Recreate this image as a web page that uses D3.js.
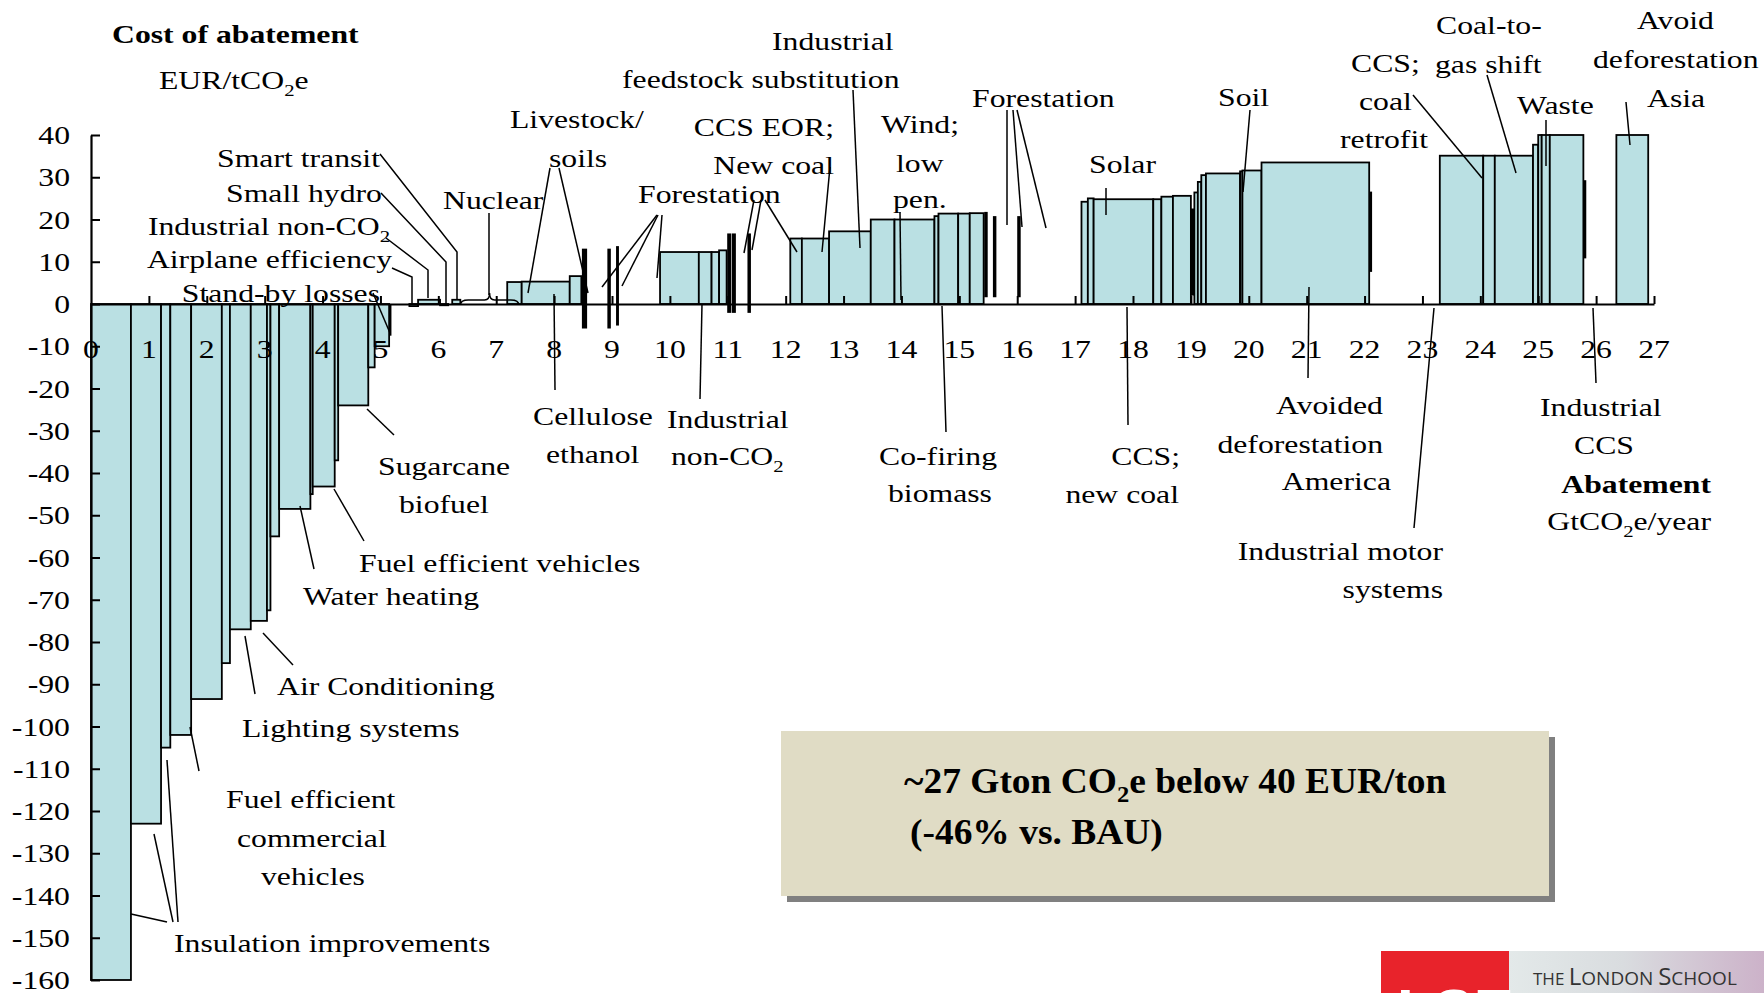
<!DOCTYPE html>
<html><head><meta charset="utf-8">
<script src="https://cdn.jsdelivr.net/npm/d3@7"></script>
<style>body{margin:0;background:#fff;} svg{display:block;}</style>
</head><body>
<svg id="chart" width="1764" height="993"></svg>
<script>
// ---------------- DATA (abatement GtCO2e/yr on x, cost EUR/tCO2e on y) ----------------
const barStart = [0.00,0.69,1.21,1.37,1.73,2.26,2.40,2.76,3.04,3.10,3.25,3.79,3.83,4.21,4.27,4.79,4.90,
  5.50,5.65,6.03,6.24,
  7.19,7.44,8.27,
  9.83,10.50,10.72,10.85,
  12.08,12.28,12.75,13.47,13.88,14.57,14.64,14.98,15.18,
  17.11,17.22,17.32,18.35,18.49,18.69,19.06,19.12,19.18,19.26,19.85,19.89,20.22,
  23.30,24.05,24.25,24.91,25.00,25.06,25.20,
  26.35];
const barEnd = [0.69,1.21,1.37,1.73,2.26,2.40,2.76,3.04,3.10,3.25,3.79,3.83,4.21,4.27,4.79,4.90,5.15,
  5.65,6.03,6.17,6.38,
  7.44,8.27,8.47,
  10.50,10.72,10.85,10.98,
  12.28,12.75,13.47,13.88,14.57,14.64,14.98,15.18,15.42,
  17.22,17.32,18.35,18.49,18.69,19.00,19.12,19.18,19.26,19.85,19.89,20.22,22.08,
  24.05,24.25,24.91,25.00,25.06,25.20,25.78,
  26.90];
const barCost = [-160,-123,-105,-102,-93.5,-85,-77,-75,-72.5,-55,-48.5,-45,-43.2,-37,-24,-15,-10,
  -0.5,1.0,-0.3,1.0,
  5.2,5.3,6.6,
  12.3,12.3,12.3,12.7,
  15.5,15.5,17.2,20.0,20.0,20.8,21.4,21.4,21.5,
  24.2,25.0,24.8,24.8,25.4,25.6,26.4,28.9,30.5,30.9,31.4,31.6,33.5,
  35.1,35.1,35.1,37.7,40,40,40,
  40];
// very small measures drawn as thick slivers
const sliverStart  = [5.15,8.48,8.92,9.07,10.99,11.07,11.34,15.43,15.58,16.00,19.00,22.08,25.78];
const sliverEnd    = [5.19,8.57,8.98,9.12,11.06,11.14,11.40,15.49,15.64,16.06,19.06,22.13,25.83];
const sliverTop    = [0,13.1,13.1,13.7,16.7,16.7,16.7,21.8,20.8,20.8,22.6,26.6,29.3];
const sliverBottom = [-7.5,-5.8,-5.8,-5.1,-2.1,-2.1,-2.1,1.6,1.6,1.6,2.0,7.6,10.8];
const xTickValues = d3.range(0, 28);
const yTickValues = d3.range(-160, 41, 10);

// ---------------- SETUP ----------------
const svg = d3.select("#chart");
const x = d3.scaleLinear().domain([0, 27]).range([91, 1654]);
const y = d3.scaleLinear().domain([-160, 40]).range([980, 135]);
const FONT = "'Liberation Serif','Times New Roman',serif";

function txt(g, px, py, s, opt = {}) {
  const t = g.append("text")
    .attr("transform", `translate(${px},${py}) scale(${opt.sx || 1.22},1)`)
    .attr("text-anchor", opt.anchor || "start")
    .style("font-family", FONT)
    .style("font-size", (opt.size || 26) + "px")
    .style("font-weight", opt.bold ? "bold" : "normal")
    .attr("fill", "#000");
  const parts = s.split("_2");
  const size = opt.size || 26;
  const sub = Math.round(size * 0.65), dy = Math.round(size * 0.27);
  parts.forEach((p, i) => {
    if (i > 0) {
      t.append("tspan").attr("dy", dy).style("font-size", sub + "px").text("2");
      t.append("tspan").attr("dy", -dy).text(p);
    } else t.append("tspan").text(p);
  });
  return t;
}

// ---------------- BARS ----------------
const bars = barStart.map((s, i) => ({ s, e: barEnd[i], c: barCost[i] }));
svg.append("g").selectAll("rect").data(bars).join("rect")
  .attr("x", d => x(d.s))
  .attr("width", d => Math.max(0.5, x(d.e) - x(d.s)))
  .attr("y", d => Math.min(y(d.c), y(0)))
  .attr("height", d => Math.max(0.5, Math.abs(y(d.c) - y(0))))
  .attr("fill", "#BAE0E3")
  .attr("stroke", "#000")
  .attr("stroke-width", 1.8);

const slivers = sliverStart.map((s, i) => ({ s, e: sliverEnd[i], t: sliverTop[i], b: sliverBottom[i] }));
svg.append("g").selectAll("rect").data(slivers).join("rect")
  .attr("x", d => x(d.s))
  .attr("width", d => x(d.e) - x(d.s))
  .attr("y", d => y(d.t))
  .attr("height", d => y(d.b) - y(d.t))
  .attr("fill", "#000");

// ---------------- AXES ----------------
const xAxis = svg.append("g").attr("transform", `translate(0,${y(0)})`)
  .call(d3.axisBottom(x).tickValues(d3.range(1, 28)).tickSize(-8).tickSizeOuter(0).tickFormat(""));
const yAxis = svg.append("g").attr("transform", `translate(${x(0)},0)`)
  .call(d3.axisLeft(y).tickValues(yTickValues).tickSize(-9).tickSizeOuter(0).tickFormat(""));
[xAxis, yAxis].forEach(a => {
  a.select(".domain").attr("stroke", "#000").attr("stroke-width", 2.2);
  a.selectAll(".tick line").attr("stroke", "#000").attr("stroke-width", 2);
});

const lab = svg.append("g");
xTickValues.forEach(v => txt(lab, x(v), 358, String(v), { anchor: "middle" }));
yTickValues.forEach(v => txt(lab, 70, y(v) + 9, String(v), { anchor: "end" }));

// ---------------- ANNOTATIONS ----------------
txt(lab, 112, 43, "Cost of abatement", { bold: true });
txt(lab, 159, 89, "EUR/tCO_2e");

const labels = [
  // [x, baselineY, text, anchor]
  [380, 167, "Smart transit", "end"],
  [382, 202, "Small hydro", "end"],
  [390, 235, "Industrial non-CO_2", "end"],
  [392, 268, "Airplane efficiency", "end"],
  [380, 302, "Stand-by losses", "end"],
  [443, 209, "Nuclear"],
  [510, 128, "Livestock/"],
  [549, 167, "soils"],
  [638, 203, "Forestation"],
  [834, 136, "CCS EOR;", "end"],
  [834, 174, "New coal", "end"],
  [772, 50, "Industrial"],
  [622, 88, "feedstock substitution"],
  [881, 133, "Wind;"],
  [896, 172, "low"],
  [893, 208, "pen."],
  [972, 107, "Forestation"],
  [1089, 173, "Solar"],
  [1218, 106, "Soil"],
  [1351, 72, "CCS;"],
  [1359, 110, "coal"],
  [1340, 148, "retrofit"],
  [1436, 34, "Coal-to-"],
  [1435, 73, "gas shift"],
  [1517, 114, "Waste"],
  [1637, 29, "Avoid"],
  [1593, 68, "deforestation"],
  [1647, 107, "Asia"],
  [378, 475, "Sugarcane"],
  [399, 513, "biofuel"],
  [533, 425, "Cellulose"],
  [546, 463, "ethanol"],
  [667, 428, "Industrial"],
  [671, 465, "non-CO_2"],
  [879, 465, "Co-firing"],
  [888, 502, "biomass"],
  [1180, 465, "CCS;", "end"],
  [1179, 503, "new coal", "end"],
  [1383, 414, "Avoided", "end"],
  [1383, 453, "deforestation", "end"],
  [1391, 490, "America", "end"],
  [1443, 560, "Industrial motor", "end"],
  [1443, 598, "systems", "end"],
  [1540, 416, "Industrial"],
  [1574, 454, "CCS"],
  [1711, 530, "GtCO_2e/year", "end"],
  [359, 572, "Fuel efficient vehicles"],
  [303, 605, "Water heating"],
  [277, 695, "Air Conditioning"],
  [242, 737, "Lighting systems"],
  [226, 808, "Fuel efficient"],
  [237, 847, "commercial"],
  [261, 885, "vehicles"],
  [174, 952, "Insulation improvements"]
];
labels.forEach(l => txt(lab, l[0], l[1], l[2], { anchor: l[3] || "start" }));
txt(lab, 1711, 493, "Abatement", { anchor: "end", bold: true });

const leaders = [
  [[380,154],[457,252],[457,300]],
  [[381,193],[446,262],[446,304]],
  [[386,238],[428,270],[428,298]],
  [[392,268],[412,277],[412,304]],
  [[373,293],[390,333]],
  [[489,213],[489,295]],
  [[550,168],[528,293]], [[559,168],[588,293]],
  [[657,215],[602,287]], [[658,215],[622,286]], [[662,215],[657,278]],
  [[754,200],[744,253]], [[761,200],[752,250]], [[765,200],[797,252]],
  [[830,167],[822,252]],
  [[853,90],[860,248]],
  [[900,212],[901,300]],
  [[1007,110],[1007,225]], [[1013,110],[1022,227]], [[1017,110],[1046,228]],
  [[1106,188],[1106,215]],
  [[1250,110],[1243,192]],
  [[1413,95],[1482,178]],
  [[1487,75],[1516,173]],
  [[1546,120],[1546,166]],
  [[1626,102],[1630,145]],
  [[367,409],[394,435]],
  [[554,294],[555,390]],
  [[702,304],[700,399]],
  [[942,306],[946,432]],
  [[1127,307],[1128,425]],
  [[1309,287],[1308,378]],
  [[1434,308],[1414,528]],
  [[1593,308],[1596,383]],
  [[334,489],[364,541]],
  [[300,506],[314,569]],
  [[263,633],[293,665]],
  [[245,636],[255,694]],
  [[190,727],[199,771]],
  [[131,914],[167,922]], [[154,834],[173,922]], [[167,760],[178,922]]
];
svg.append("g").selectAll("path").data(leaders).join("path")
  .attr("d", d => d3.line()(d))
  .attr("fill", "none").attr("stroke", "#000").attr("stroke-width", 1.5);

// nuclear brace
{
  const x0 = x(6.38), x1 = x(7.39), xm = (x0 + x1) / 2, yb = y(0) - 4;
  svg.append("path")
    .attr("d", `M${x0},${yb+5} Q${x0},${yb} ${x0+8},${yb} L${xm-5},${yb} Q${xm},${yb} ${xm},${yb-7} Q${xm},${yb} ${xm+5},${yb} L${x1-8},${yb} Q${x1},${yb} ${x1},${yb+5}`)
    .attr("fill", "none").attr("stroke", "#000").attr("stroke-width", 1.5);
}

// ---------------- SUMMARY BOX ----------------
svg.append("rect").attr("x", 787).attr("y", 737).attr("width", 768).attr("height", 165).attr("fill", "#808080");
svg.append("rect").attr("x", 781).attr("y", 731).attr("width", 768).attr("height", 165).attr("fill", "#E0DCC5");
lab.raise();
txt(lab, 904, 793, "~27 Gton CO_2e below 40 EUR/ton", { bold: true, size: 35, sx: 1.07 });
txt(lab, 910, 844, "(-46% vs. BAU)", { bold: true, size: 35, sx: 1.07 });

// ---------------- LOGO (partially visible) ----------------
const defs = svg.append("defs");
const gr = defs.append("linearGradient").attr("id", "lg").attr("x1", "0").attr("x2", "1");
gr.append("stop").attr("offset", "0").attr("stop-color", "#e3e9e9");
gr.append("stop").attr("offset", "0.45").attr("stop-color", "#d9dcdf");
gr.append("stop").attr("offset", "1").attr("stop-color", "#ccb2c9");
svg.append("rect").attr("x", 1381).attr("y", 951).attr("width", 128).attr("height", 42).attr("fill", "#E8232B");
svg.append("rect").attr("x", 1509).attr("y", 951).attr("width", 255).attr("height", 42).attr("fill", "url(#lg)");
svg.append("text").attr("x", 1397).attr("y", 1031).attr("fill", "#fff")
  .style("font-family", "'Liberation Sans',Arial,sans-serif").style("font-weight", "bold").style("font-size", "60px").text("LSE");
const lt = svg.append("text").attr("x", 1533).attr("y", 985).attr("fill", "#333")
  .style("font-family", "'Open Sans','Liberation Sans',sans-serif").style("font-size", "24px");
lt.append("tspan").style("font-size", "17px").text("THE ");
lt.append("tspan").text("L");
lt.append("tspan").style("font-size", "19px").text("ONDON ");
lt.append("tspan").text("S");
lt.append("tspan").style("font-size", "19px").text("CHOOL");
</script>
</body></html>
